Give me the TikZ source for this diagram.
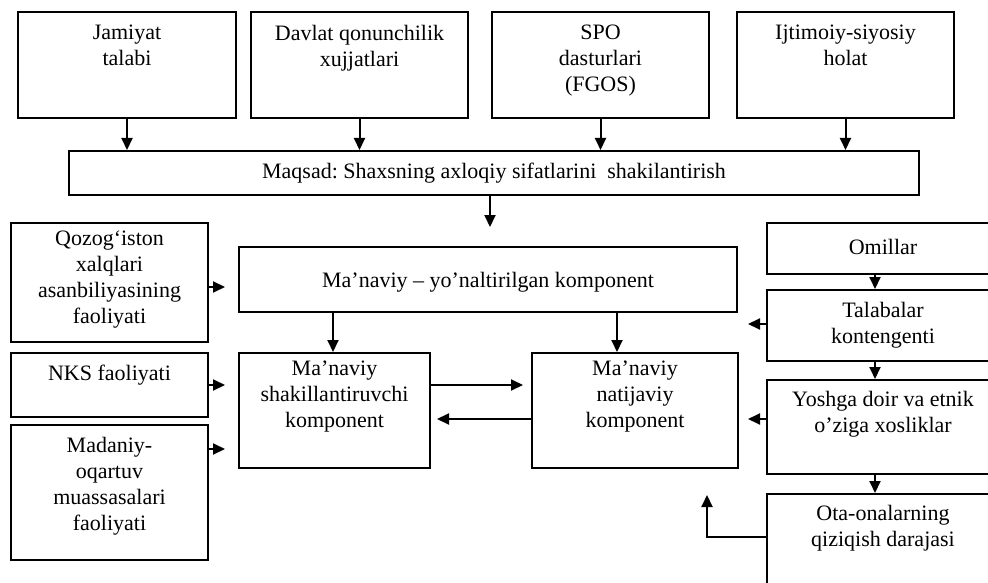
\documentclass[tikz,border=0pt]{standalone}
\usepackage{fontspec}
\setmainfont{Liberation Serif}
\usetikzlibrary{arrows.meta,calc}
\frenchspacing
\tikzset{
  box/.style={draw, line width=2pt, rectangle, inner sep=0pt, anchor=north west},
  txt/.style={align=center, inner sep=0pt, font=\fontsize{22}{26}\selectfont},
  arr/.style={line width=2pt, -{Triangle[length=12pt,width=11pt]}},
}
\newcommand{\mybox}[5]{\node[box, minimum width=#4-#2, minimum height=#5-#3] (#1) at (#2,#3) {};}
\begin{document}
\begin{tikzpicture}[x=1pt,y=-1pt]
\useasboundingbox (0,0) rectangle (988,583);
\clip (0,0) rectangle (988,583);
\fill[white] (0,0) rectangle (988,583);
% top row
\mybox{b1}{17}{11}{235}{117}
\mybox{b2}{250}{11}{467}{117}
\mybox{b3}{491}{11}{708}{117}
\mybox{b4}{736}{11}{953}{117}
\node[txt, anchor=north] (t1) at ($(b1.north)+(0,14)$) {Jamiyat\\talabi};
\node[txt, anchor=north] (t2) at ($(b2.north)+(0,14)$) {Davlat qonunchilik\\xujjatlari};
\node[txt, anchor=north] (t3) at ($(b3.north)+(0,14)$) {SPO\\dasturlari\\(FGOS)};
\node[txt, anchor=north] (t4) at ($(b4.north)+(0,14)$) {Ijtimoiy-siyosiy\\holat};
% goal
\mybox{maq}{68}{150}{918}{194}
\node[txt] (tmaq) at (maq.center) {Maqsad: Shaxsning axloqiy sifatlarini\ \ shakilantirish};
\foreach \b in {b1,b2,b3,b4} \draw[arr] (\b.south) -- (\b.south |- maq.north);
\coordinate (maqend) at (490,227);
\draw[arr] (maq.south -| maqend) -- (maqend);
% left column
\mybox{qoz}{10}{222}{207}{341}
\node[txt] (tqoz) at ($(qoz.center)+(0,-3)$) {Qozog‘iston\\xalqlari\\asanbiliyasining\\faoliyati};
\mybox{nks}{10}{352}{207}{416}
\node[txt, anchor=north] (tnks) at ($(nks.north)+(0,13)$) {NKS faoliyati};
\mybox{mad}{10}{424}{207}{559}
\node[txt, anchor=north] (tmad) at ($(mad.north)+(0,13)$) {Madaniy-\\oqartuv\\muassasalari\\faoliyati};
\coordinate (qa) at (225,287);
\coordinate (na) at (225,385);
\coordinate (ma) at (225,449);
\draw[arr] (qoz.east |- qa) -- (qa);
\draw[arr] (nks.east |- na) -- (na);
\draw[arr] (mad.east |- ma) -- (ma);
% middle
\mybox{yon}{238}{246}{736}{311}
\node[txt] (tyon) at ($(yon.center)+(0,3)$) {Ma’naviy – yo’naltirilgan komponent};
\mybox{shak}{238}{352}{429}{467}
\node[txt, anchor=north] (tshak) at ($(shak.north)+(0,9)$) {Ma’naviy\\shakillantiruvchi\\komponent};
\mybox{nat}{531}{352}{737}{467}
\node[txt, anchor=north] (tnat) at ($(nat.north)+(0,9)$) {Ma’naviy\\natijaviy\\komponent};
\coordinate (ya) at (333,311);
\coordinate (yb) at (617,311);
\draw[arr] (ya) -- (ya |- shak.north);
\draw[arr] (yb) -- (yb |- nat.north);
\coordinate (r1) at (523,385);
\coordinate (l1) at (437,419);
\draw[arr] (shak.east |- r1) -- (r1);
\draw[arr] (nat.west |- l1) -- (l1);
% right column
\mybox{om}{766}{222}{998}{273}
\node[txt] (tom) at ($(om.center)+(0,-2)$) {Omillar};
\mybox{tal}{766}{289}{998}{360}
\node[txt] (ttal) at (tal.center) {Talabalar\\kontengenti};
\mybox{yosh}{766}{379}{998}{473}
\node[txt, anchor=north] (tyosh) at ($(yosh.north)+(0,12)$) {Yoshga doir va etnik\\o’ziga xosliklar};
\mybox{ota}{766}{493}{998}{600}
\node[txt, anchor=north] (tota) at ($(ota.north)+(0,12)$) {Ota-onalarning\\qiziqish darajasi};
\coordinate (cx) at (875,0);
\draw[arr] (om.south -| cx) -- (tal.north -| cx);
\draw[arr] (tal.south -| cx) -- (yosh.north -| cx);
\draw[arr] (yosh.south -| cx) -- (ota.north -| cx);
\coordinate (ta) at (748,324);
\coordinate (ysa) at (748,419);
\draw[arr] (tal.west |- ta) -- (ta);
\draw[arr] (yosh.west |- ysa) -- (ysa);
\coordinate (ob) at (766,537);
\coordinate (oa) at (707,495);
\draw[arr] (ota.west |- ob) -| (oa);
\end{tikzpicture}
\end{document}
